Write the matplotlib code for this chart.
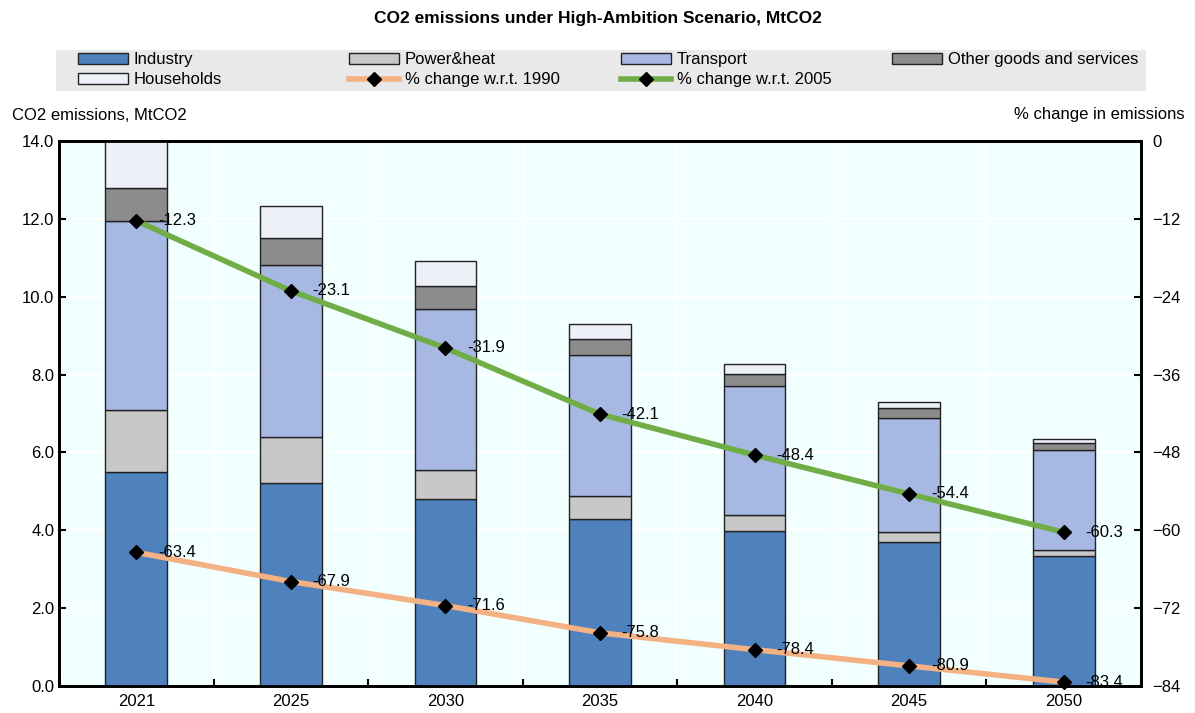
import numpy as np
import matplotlib.pyplot as plt
from matplotlib.patches import Patch, Rectangle
from matplotlib.lines import Line2D

plt.rcParams['font.family'] = ['Liberation Sans Narrow', 'Liberation Sans', 'DejaVu Sans']

# data
years      = ['2021', '2025', '2030', '2035', '2040', '2045', '2050']
industry   = [5.50, 5.21, 4.80, 4.29, 3.98, 3.70, 3.34]
power      = [1.59, 1.19, 0.75, 0.59, 0.41, 0.26, 0.15]
transport  = [4.85, 4.41, 4.13, 3.62, 3.32, 2.92, 2.57]
other      = [0.85, 0.70, 0.59, 0.41, 0.30, 0.26, 0.18]
households = [1.21, 0.82, 0.65, 0.39, 0.26, 0.16, 0.10]
chg_1990   = [-63.4, -67.9, -71.6, -75.8, -78.4, -80.9, -83.4]
chg_2005   = [-12.3, -23.1, -31.9, -42.1, -48.4, -54.4, -60.3]

series = [('Industry', industry, '#4F81BD'),
          ('Power&heat', power, '#C8C8C8'),
          ('Transport', transport, '#A7B9E3'),
          ('Other goods and services', other, '#8C8C8C'),
          ('Households', households, '#EEF0F8')]
c1990 = '#F4B183'
c2005 = '#70AD47'

fig = plt.figure(figsize=(11.95, 7.13), dpi=100)
ax  = fig.add_axes([59/1195, 27/713, 1082/1195, 545/713])
ax.set_facecolor('#F2FFFF')

x = np.arange(len(years))
bottom = np.zeros(len(years))
for name, vals, col in series:
    ax.bar(x, vals, width=0.4, bottom=bottom, color=col, edgecolor='#222222',
           linewidth=1.0, zorder=3)
    bottom += np.array(vals)

ax.set_xlim(-0.5, 6.5)
ax.set_ylim(0, 14)
ax.set_yticks(np.arange(0, 14.1, 2))
ax.set_yticklabels(['%.1f' % v for v in np.arange(0, 14.1, 2)])
ax.set_xticks(x)
ax.set_xticklabels(years)
ax.set_xticks(np.arange(-0.5, 6.6, 1), minor=True)
ax.tick_params(axis='x', which='major', length=0, labelsize=12, pad=6)
ax.tick_params(axis='x', which='minor', direction='in', length=5, width=1.5)
ax.tick_params(axis='y', direction='in', length=5, width=1.5, labelsize=12)
ax.grid(True, which='minor', axis='x', color='white', linewidth=1.5, zorder=0)
ax.grid(True, which='major', axis='y', color='white', linewidth=1.5, zorder=0)
ax.set_axisbelow(True)
for s in ax.spines.values():
    s.set_linewidth(2)
    s.set_color('black')

ax2 = ax.twinx()
ax2.set_ylim(-84, 0)
ax2.set_yticks(np.arange(-84, 1, 12))
ax2.tick_params(axis='y', direction='in', length=5, width=1.5, labelsize=12, pad=8)
for s in ax2.spines.values():
    s.set_linewidth(2)
ax2.plot(x, chg_1990, color=c1990, linewidth=4, marker='D', markersize=7,
         markerfacecolor='black', markeredgecolor='black', zorder=4, clip_on=False)
ax2.plot(x, chg_2005, color=c2005, linewidth=4, marker='D', markersize=7,
         markerfacecolor='black', markeredgecolor='black', zorder=4, clip_on=False)
for xi, v in zip(x, chg_1990):
    ax2.text(xi + 0.14, v, '%.1f' % v, fontsize=12, va='center', ha='left', zorder=5)
for xi, v in zip(x, chg_2005):
    ax2.text(xi + 0.14, v, '%.1f' % v, fontsize=12, va='center', ha='left', zorder=5)

# legend: grey band with four equal columns
fig.patches.append(Rectangle((56/1195, 1 - 91/713), (1146-56)/1195, 41/713,
                             transform=fig.transFigure, facecolor='#E9E9E9',
                             edgecolor='none', zorder=0))
h = [Patch(facecolor=c, edgecolor='#222222', label=n) for n, _, c in series]
l1990 = Line2D([], [], color=c1990, linewidth=4, marker='D', markersize=7,
               markerfacecolor='black', markeredgecolor='black', label='% change w.r.t. 1990')
l2005 = Line2D([], [], color=c2005, linewidth=4, marker='D', markersize=7,
               markerfacecolor='black', markeredgecolor='black', label='% change w.r.t. 2005')
columns = [[h[0], h[4]], [h[1], l1990], [h[2], l2005], [h[3]]]
col_x = [78, 349, 621, 892]
for cx, hs in zip(col_x, columns):
    leg = fig.legend(handles=hs, loc='upper left', bbox_to_anchor=(cx/1195, 1 - 52/713),
                     frameon=False, fontsize=12, handlelength=3.0, handleheight=0.65,
                     handletextpad=0.35, labelspacing=0.32, borderpad=0, borderaxespad=0)

fig.text(0.5, 1 - 18/713, 'CO2 emissions under High-Ambition Scenario, MtCO2',
         ha='center', va='center', fontsize=12.5, fontweight='bold')
fig.text(12/1195, 1 - 115/713, 'CO2 emissions, MtCO2', ha='left', va='center', fontsize=12)
fig.text(1185/1195, 1 - 115/713, '% change in emissions', ha='right', va='center', fontsize=12)

fig.savefig('out.png', dpi=100)
